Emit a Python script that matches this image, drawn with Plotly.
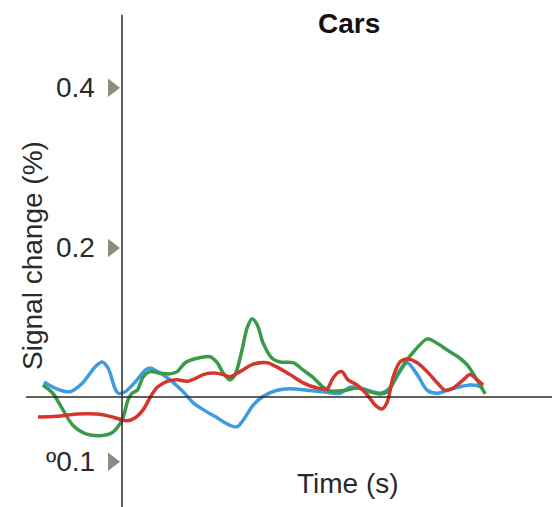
import plotly.graph_objs as go

# Time (s) relative to stimulus onset, and signal change (%) per curve
blue_t = [-1.95, -1.68, -1.3, -0.98, -0.68, -0.5, -0.35, -0.18, -0.1, 0.08, 0.33, 0.58,
          0.7, 0.95, 1.2, 1.53, 1.78, 2.03, 2.38, 2.7, 2.88, 3.03, 3.28, 3.53, 3.88, 4.2,
          4.63, 5.03, 5.45, 5.7, 5.95, 6.2, 6.45, 6.7, 6.9, 7.13, 7.38, 7.63, 7.88, 8.13,
          8.4, 8.7, 8.9, 9.03]
blue_v = [0.020, 0.012, 0.007, 0.019, 0.040, 0.047, 0.039, 0.012, 0.005, 0.007, 0.020, 0.036,
          0.039, 0.032, 0.023, 0.007, -0.008, -0.017, -0.028, -0.038, -0.040, -0.031, -0.011,
          0.001, 0.009, 0.011, 0.009, 0.007, 0.005, 0.013, 0.012, 0.008, 0.005, 0.012, 0.030,
          0.046, 0.030, 0.009, 0.005, 0.009, 0.013, 0.016, 0.015, 0.012]

green_t = [-1.98, -1.73, -1.48, -1.23, -0.88, -0.55, -0.25, -0.1, 0.03, 0.15, 0.25, 0.38,
           0.53, 0.7, 0.95, 1.2, 1.38, 1.58, 1.88, 2.2, 2.38, 2.53, 2.7, 2.83, 3.0, 3.13,
           3.25, 3.38, 3.53, 3.75, 3.95, 4.28, 4.53, 4.78, 5.03, 5.2, 5.58, 5.88, 6.2, 6.45,
           6.63, 6.78, 7.0, 7.28, 7.63, 7.88, 8.13, 8.4, 8.63, 8.83, 9.08]
green_v = [0.016, 0.005, -0.017, -0.038, -0.050, -0.052, -0.048, -0.040, -0.027, -0.004,
           0.005, 0.009, 0.027, 0.034, 0.032, 0.031, 0.034, 0.046, 0.052, 0.054, 0.046, 0.032,
           0.023, 0.030, 0.063, 0.093, 0.105, 0.097, 0.072, 0.052, 0.047, 0.046, 0.036, 0.026,
           0.013, 0.008, 0.009, 0.012, 0.007, 0.004, 0.007, 0.020, 0.040, 0.060, 0.078, 0.072,
           0.063, 0.054, 0.043, 0.027, 0.004]

red_t = [-2.1, -1.63, -1.13, -0.63, -0.3, -0.05, 0.13, 0.33, 0.53, 0.7, 0.88, 1.13, 1.38,
         1.63, 1.88, 2.03, 2.28, 2.53, 2.7, 2.95, 3.28, 3.63, 3.88, 4.2, 4.53, 4.88, 5.13,
         5.25, 5.38, 5.5, 5.65, 5.88, 6.13, 6.33, 6.5, 6.63, 6.78, 6.95, 7.13, 7.38, 7.63,
         7.88, 8.08, 8.28, 8.53, 8.7, 8.88, 9.03]
red_v = [-0.027, -0.026, -0.023, -0.023, -0.026, -0.030, -0.032, -0.028, -0.017, -0.001,
         0.013, 0.021, 0.023, 0.021, 0.026, 0.030, 0.032, 0.030, 0.027, 0.034, 0.044, 0.046,
         0.040, 0.030, 0.019, 0.012, 0.011, 0.023, 0.032, 0.034, 0.023, 0.016, 0.003, -0.011,
         -0.016, -0.007, 0.027, 0.047, 0.051, 0.046, 0.034, 0.019, 0.009, 0.012, 0.023, 0.030,
         0.023, 0.016]

# tick labels as printed in the figure, at the heights where they sit
tick_vals = [0.415, 0.2, -0.087]
tick_labels = ['0.4', '0.2', 'º0.1']

FONT = 'Liberation Sans'
# the page adds an 8px body margin, so the figure is 8px smaller than the window
X_RANGE = [-2.85, 10.95]
Y_RANGE = [-0.1477, 0.5221]

fig = go.Figure()

for t, v, color in [(blue_t, blue_v, '#3f9be0'),
                    (green_t, green_v, '#3b9a48'),
                    (red_t, red_v, '#d4352d')]:
    fig.add_trace(go.Scatter(x=t, y=v, mode='lines',
                             line=dict(color=color, width=3.5, shape='spline', smoothing=0.8),
                             hoverinfo='skip'))

# little triangle tick markers
fig.add_trace(go.Scatter(x=[-0.25] * len(tick_vals), y=tick_vals, mode='markers',
                         marker=dict(symbol='triangle-right', size=16, color='#8b8e7c'),
                         hoverinfo='skip'))

# axis lines
fig.add_shape(type='line', x0=0, x1=0, y0=Y_RANGE[0], y1=0.513,
              line=dict(color='#2a2a2a', width=1.5))
fig.add_shape(type='line', x0=-2.4, x1=X_RANGE[1], y0=0, y1=0,
              line=dict(color='#2a2a2a', width=1.5))

for val, lab in zip(tick_vals, tick_labels):
    fig.add_annotation(x=-0.62, y=val, text=lab, showarrow=False, xanchor='right',
                       yanchor='middle', font=dict(family=FONT, size=28, color='#2a2a2a'))

fig.add_annotation(x=5.675, y=0.5007, text='<b>Cars</b>', showarrow=False,
                   font=dict(family=FONT, size=28, color='#111'))
fig.add_annotation(x=5.64, y=-0.1168, text='Time (s)', showarrow=False,
                   font=dict(family=FONT, size=28, color='#2a2a2a'))
fig.add_annotation(x=-2.225, y=0.1893, text='Signal change (%)', textangle=-90,
                   showarrow=False, font=dict(family=FONT, size=28, color='#2a2a2a'))

fig.update_layout(width=552, height=499, margin=dict(l=0, r=0, t=0, b=0),
                  plot_bgcolor='white', paper_bgcolor='white', showlegend=False,
                  xaxis=dict(range=X_RANGE, visible=False),
                  yaxis=dict(range=Y_RANGE, visible=False))

fig.write_html("out.html")
